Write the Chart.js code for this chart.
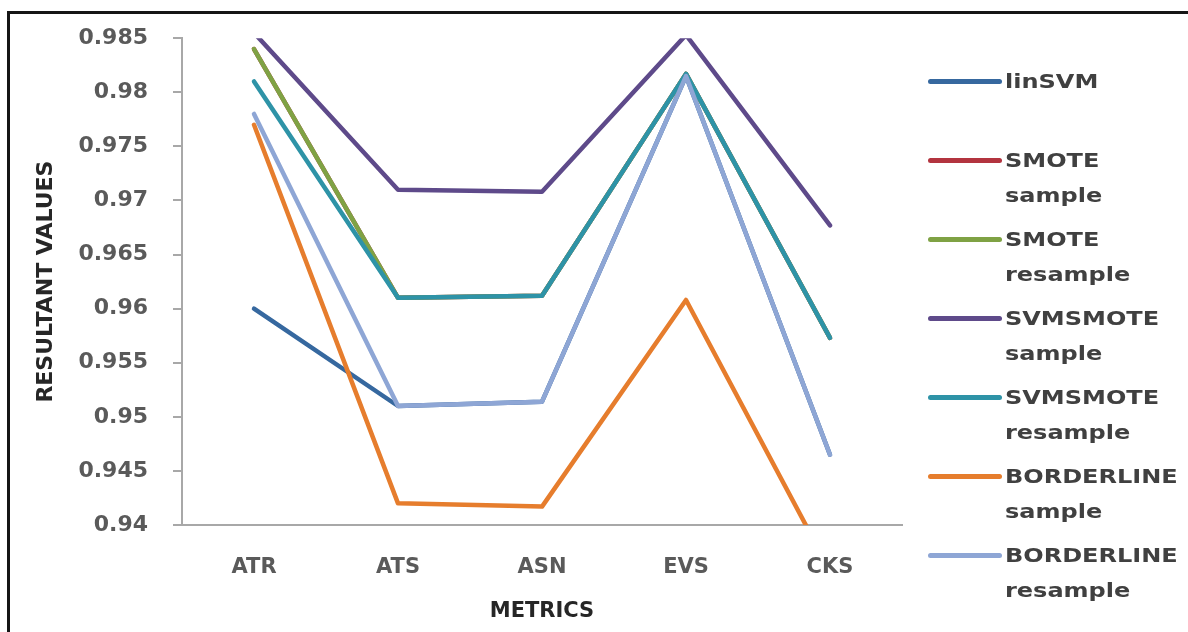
<!DOCTYPE html>
<html>
<head>
<meta charset="utf-8">
<script src="https://cdn.jsdelivr.net/npm/chart.js@4/dist/chart.umd.min.js"></script>
<style>
  html, body { margin: 0; padding: 0; background: #fff; }
  #wrap { position: relative; width: 1188px; height: 632px; overflow: hidden; }
  #frame { position: absolute; left: 7px; top: 11px; right: -10px; bottom: -10px;
           border-left: 3px solid #161616; border-top: 3px solid #161616; }
  #chart { position: absolute; left: 0; top: 0; }
  #legend { position: absolute; left: 928px; top: 64px; font-family: "DejaVu Sans", sans-serif;
            font-size: 20px; font-weight: bold; color: #404040; }
  .item { position: relative; height: 79px; }
  .swatch { position: absolute; left: 0; top: 15px; width: 74px; height: 5px; border-radius: 3px; }
  .txt { position: absolute; left: 77px; top: 0; line-height: 35px; white-space: nowrap;
         transform: scaleX(1.2); transform-origin: 0 0; }
</style>
</head>
<body>
<div id="wrap">
  <div id="frame"></div>
  <canvas id="chart" width="1188" height="632"></canvas>
  <div id="legend"></div>
</div>
<script>
// metricas en el eje x
const metricas = ["ATR", "ATS", "ASN", "EVS", "CKS"];
// marcas del eje y
const yTicks = [0.94, 0.945, 0.95, 0.955, 0.96, 0.965, 0.97, 0.975, 0.98, 0.985];

const nombres = ["linSVM", "SMOTE sample", "SMOTE resample", "SVMSMOTE sample",
  "SVMSMOTE resample", "BORDERLINE sample", "BORDERLINE resample"];
const colores = ["#36689f", "#b3343f", "#7fa244", "#5e4a8a", "#2e93a7", "#e67d2d", "#8ea6d5"];

const linSVM = [0.960, 0.951, 0.9514, 0.9815, 0.9465];
const smoteSample = [0.984, 0.961, 0.9612, 0.9817, 0.9573];
const smoteResample = [0.984, 0.961, 0.9612, 0.9817, 0.9573];
const svmSmoteSample = [0.9855, 0.971, 0.9708, 0.9853, 0.9677];
const svmSmoteResample = [0.981, 0.961, 0.9612, 0.9817, 0.9573];
const borderlineSample = [0.977, 0.942, 0.9417, 0.9608, 0.9358];
const borderlineResample = [0.978, 0.951, 0.9514, 0.9815, 0.9465];

const series = [linSVM, smoteSample, smoteResample, svmSmoteSample,
  svmSmoteResample, borderlineSample, borderlineResample];

const tickColor = "#5a5a5a";
const axisColor = "#a8a8a8";

const datasets = series.map((valores, i) => ({
  label: nombres[i],
  data: valores,
  borderColor: colores[i],
  backgroundColor: colores[i],
  borderWidth: 4.5,
  pointRadius: 0,
  tension: 0,
  borderCapStyle: "round",
  borderJoinStyle: "round",
  order: series.length - i // la ultima serie queda arriba, como en Excel
}));

const chart = new Chart(document.getElementById("chart"), {
  type: "line",
  data: { labels: metricas, datasets },
  options: {
    responsive: false,
    animation: false,
    layout: { padding: { left: 30, top: 38, right: 286, bottom: 0 } },
    plugins: { legend: { display: false }, tooltip: { enabled: false } },
    scales: {
      x: {
        offset: true,
        grid: { display: false, drawTicks: false },
        border: { display: true, color: axisColor, width: 2 },
        ticks: { color: tickColor, padding: 30, font: { family: "DejaVu Sans", size: 21, weight: "bold" } },
        title: { display: true, text: "METRICS", color: "#262626", padding: { top: 0, bottom: 8 },
                 font: { family: "DejaVu Sans", size: 21, weight: "bold" } },
        afterFit: (scale) => { scale.height = 107; }
      },
      y: {
        min: 0.94,
        max: 0.985,
        afterBuildTicks: (scale) => { scale.ticks = yTicks.map((v) => ({ value: v })); },
        grid: { display: true, drawOnChartArea: false, drawTicks: true, tickLength: 9,
                color: axisColor, lineWidth: 2 },
        border: { display: true, color: axisColor, width: 2 },
        ticks: { color: tickColor, padding: 25, font: { family: "DejaVu Sans", size: 22, weight: "bold" },
                 callback: (v) => String(parseFloat(Number(v).toFixed(3))) },
        title: { display: true, text: "RESULTANT VALUES", color: "#262626", padding: { top: 3, bottom: 0 },
                 font: { family: "DejaVu Sans", size: 22, weight: "bold" } },
        afterFit: (scale) => { scale.width = 152; }
      }
    }
  }
});

// leyenda en HTML, dos renglones por serie
const legend = document.getElementById("legend");
chart.data.datasets.forEach((ds) => {
  const item = document.createElement("div");
  item.className = "item";
  const sw = document.createElement("div");
  sw.className = "swatch";
  sw.style.background = ds.borderColor;
  const txt = document.createElement("div");
  txt.className = "txt";
  txt.innerHTML = ds.label.split(" ").join("<br>");
  item.appendChild(sw);
  item.appendChild(txt);
  legend.appendChild(item);
});
</script>
</body>
</html>
